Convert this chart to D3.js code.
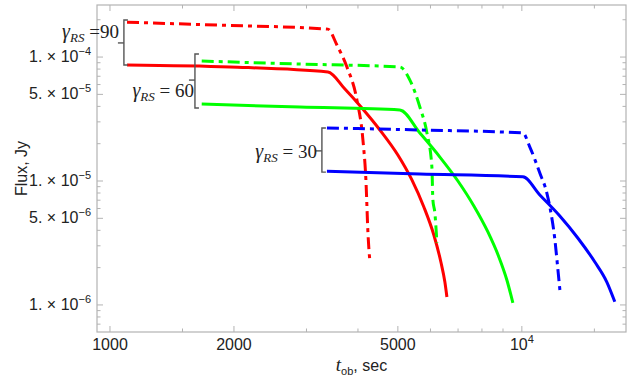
<!DOCTYPE html>
<html>
<head>
<meta charset="utf-8">
<script src="https://cdn.jsdelivr.net/npm/d3@7"></script>
<style>
  body { margin: 0; background: #fff; }
  text { font-family: "Liberation Sans", Arial, sans-serif; fill: #222; }
  .gam { font-family: "Liberation Serif", "DejaVu Serif", serif; }
</style>
</head>
<body>
<svg id="chart"></svg>
<script>
const W = 635
const H = 381
const margins = { top: 5, bottom: 49, left: 97, right: 9 }
const w = W - margins.left - margins.right
const h = H - margins.top - margins.bottom

// curves: gamma 90 (red), 60 (green), 30 (blue); dashed + solid each
const red_dash_t = [1100, 1829, 3382, 3556, 3761, 3977, 4113, 4183, 4230, 4277]
const red_dash_f = [1.91e-4, 1.81e-4, 1.68e-4, 1.25e-4, 8.31e-5, 4.5e-5, 2.14e-5, 1.0e-5, 3.81e-6, 2.22e-6]
const red_sol_t = [1100, 1956, 3382, 3719, 4090, 4522, 5000, 5408, 5782, 6114, 6359, 6503, 6577]
const red_sol_f = [8.62e-5, 8.31e-5, 7.57e-5, 5.52e-5, 3.88e-5, 2.58e-5, 1.62e-5, 1.02e-5, 6.17e-6, 3.67e-6, 2.22e-6, 1.53e-6, 1.16e-6]
const green_dash_t = [1670, 2892, 5057, 5348, 5654, 5882, 6047, 6081, 6149, 6220]
const green_dash_f = [9.28e-5, 8.78e-5, 8.31e-5, 6.52e-5, 3.95e-5, 2.44e-5, 1.3e-5, 7.03e-6, 5.52e-6, 3.16e-6]
const green_sol_t = [1670, 2892, 5057, 5654, 6324, 6994, 7647, 8271, 8793, 9196, 9511]
const green_sol_f = [4.18e-5, 3.95e-5, 3.74e-5, 2.44e-5, 1.56e-5, 1.0e-5, 6.29e-6, 3.88e-6, 2.44e-6, 1.59e-6, 1.04e-6]
const blue_dash_t = [3363, 5654, 10056, 10457, 11056, 11500, 11695, 12030, 12234, 12370]
const blue_dash_f = [2.68e-5, 2.58e-5, 2.44e-5, 1.88e-5, 1.16e-5, 8.0e-6, 6.17e-6, 3.34e-6, 1.92e-6, 1.32e-6]
const blue_sol_t = [3363, 5654, 10056, 11058, 12365, 13672, 15040, 16082, 16814]
const blue_sol_f = [1.2e-5, 1.14e-5, 1.08e-5, 7.71e-6, 5.22e-6, 3.47e-6, 2.22e-6, 1.53e-6, 1.06e-6]

// bracket annotations
const gammas = ['90', '60', '30']
const bracket_t = [1081, 1608, 3270]
const bracket_top = [1.99e-4, 1.057e-4, 2.68e-5]
const bracket_bot = [8.62e-5, 3.88e-5, 1.18e-5]
const bracket_mid = [1.30e-4, 6.52e-5, 1.75e-5]

// ticks
const xMajor = [1000, 2000, 5000, 10000]
const xMinor = [1500, 3000, 4000, 6000, 7000, 8000, 9000, 15000]
const yMajor = [1e-4, 5e-5, 1e-5, 5e-6, 1e-6]
const yMajorLab = [['1', '−4'], ['5', '−5'], ['1', '−5'], ['5', '−6'], ['1', '−6']]

const series = [
  { t: red_dash_t, f: red_dash_f, color: '#ff0000', dash: true },
  { t: red_sol_t, f: red_sol_f, color: '#ff0000', dash: false },
  { t: green_dash_t, f: green_dash_f, color: '#00ff00', dash: true },
  { t: green_sol_t, f: green_sol_f, color: '#00ff00', dash: false },
  { t: blue_dash_t, f: blue_dash_f, color: '#0000ff', dash: true },
  { t: blue_sol_t, f: blue_sol_f, color: '#0000ff', dash: false }
]

const outer = d3.select('svg#chart').attr('width', W).attr('height', H)
const inner = outer.append('g')
  .attr('transform', 'translate(' + margins.left + ',' + margins.top + ')')

const xScale = d3.scaleLog().domain([930, 17900]).range([0, w])
const yScale = d3.scaleLog().domain([6.05e-7, 2.63e-4]).range([h, 0])

const clip = inner.append('clipPath').attr('id', 'clip')
clip.append('rect').attr('width', w).attr('height', h)

// minor y ticks: 2..9 of each decade
var yMinor = []
for (var e = -7; e <= -4; e++) {
  for (var m = 2; m <= 9; m++) {
    if (m === 5) continue
    var v = m * Math.pow(10, e)
    if (v > 6.05e-7 && v < 2.63e-4) yMinor.push(v)
  }
}

const tickCol = '#b3b3b3'
function tickLines(vals, len, axis) {
  vals.forEach(v => {
    if (axis === 'x') {
      var x = xScale(v)
      inner.append('line').attr('x1', x).attr('x2', x).attr('y1', h).attr('y2', h - len).attr('stroke', tickCol)
      inner.append('line').attr('x1', x).attr('x2', x).attr('y1', 0).attr('y2', len).attr('stroke', tickCol)
    } else {
      var y = yScale(v)
      inner.append('line').attr('y1', y).attr('y2', y).attr('x1', 0).attr('x2', len).attr('stroke', tickCol)
      inner.append('line').attr('y1', y).attr('y2', y).attr('x1', w).attr('x2', w - len).attr('stroke', tickCol)
    }
  })
}
tickLines(xMajor, 6, 'x')
tickLines(xMinor, 3.5, 'x')
tickLines(yMajor, 6, 'y')
tickLines(yMinor, 3.5, 'y')

inner.append('rect')
  .attr('width', w).attr('height', h)
  .attr('fill', 'none').attr('stroke', tickCol).attr('stroke-width', 1.2)

// x tick labels
xMajor.forEach(v => {
  var t = inner.append('text')
    .attr('x', xScale(v)).attr('y', h + 18)
    .attr('text-anchor', 'middle').attr('font-size', 16)
  if (v === 10000) {
    t.append('tspan').text('10')
    t.append('tspan').attr('dy', -7).attr('font-size', 11).text('4')
  } else {
    t.text(v)
  }
})

// y tick labels
yMajor.forEach((v, i) => {
  var t = inner.append('text')
    .attr('x', -6).attr('y', yScale(v) + 5)
    .attr('text-anchor', 'end').attr('font-size', 16)
  t.append('tspan').text(yMajorLab[i][0] + '. \u00d7 10')
  t.append('tspan').attr('dy', -7).attr('font-size', 11).text(yMajorLab[i][1])
})

// curves
const line = d3.line()
  .x(d => xScale(d[0]))
  .y(d => yScale(d[1]))
  .curve(d3.curveMonotoneX)

inner.append('g').attr('clip-path', 'url(#clip)')
  .selectAll('path')
  .data(series)
  .join('path')
  .attr('d', s => line(s.t.map((t, i) => [t, s.f[i]])))
  .attr('fill', 'none')
  .attr('stroke', s => s.color)
  .attr('stroke-width', 3)
  .attr('stroke-dasharray', s => s.dash ? '12,5,4,5' : null)

// brackets
gammas.forEach((g, i) => {
  var bx = xScale(bracket_t[i])
  var y1 = yScale(bracket_top[i]), y2 = yScale(bracket_bot[i]), ym = yScale(bracket_mid[i])
  var b = inner.append('g').attr('stroke', '#555').attr('stroke-width', 1.4).attr('fill', 'none')
  b.append('path').attr('d', 'M' + (bx + 4) + ',' + y1 + 'H' + bx + 'V' + y2 + 'H' + (bx + 4))
  b.append('line').attr('x1', bx).attr('x2', bx - 6).attr('y1', ym).attr('y2', ym)
})

function gammaLabel(x, y, num, spaced) {
  var t = inner.append('text').attr('class', 'gam')
    .attr('x', x).attr('y', y).attr('text-anchor', 'end').attr('font-size', 19)
  t.append('tspan').attr('font-style', 'italic').attr('font-size', 20).text('\u03b3')
  t.append('tspan').attr('font-style', 'italic').attr('font-size', 13).attr('dy', 4).text('RS')
  t.append('tspan').attr('dy', -4).text(spaced ? ' = ' + num : ' =' + num)
}
gammaLabel(xScale(bracket_t[0]) - 5, yScale(bracket_mid[0]) - 5, gammas[0], false)
gammaLabel(xScale(bracket_t[1]) - 1, yScale(bracket_mid[1]) + 17, gammas[1], true)
gammaLabel(xScale(bracket_t[2]) - 5, yScale(bracket_mid[2]) + 7, gammas[2], true)

// axis titles
const xt = outer.append('text')
  .attr('x', margins.left + w / 2).attr('y', 371)
  .attr('text-anchor', 'middle').attr('font-size', 16)
xt.append('tspan').attr('class', 'gam').attr('font-style', 'italic').attr('font-size', 19).text('t')
xt.append('tspan').attr('font-size', 11).attr('dy', 4).text('ob')
xt.append('tspan').attr('dy', -4).text(',  sec')

outer.append('text')
  .attr('transform', 'translate(27,' + (margins.top + h / 2) + ') rotate(-90)')
  .attr('text-anchor', 'middle').attr('font-size', 16)
  .text('Flux, Jy')
</script>
</body>
</html>
